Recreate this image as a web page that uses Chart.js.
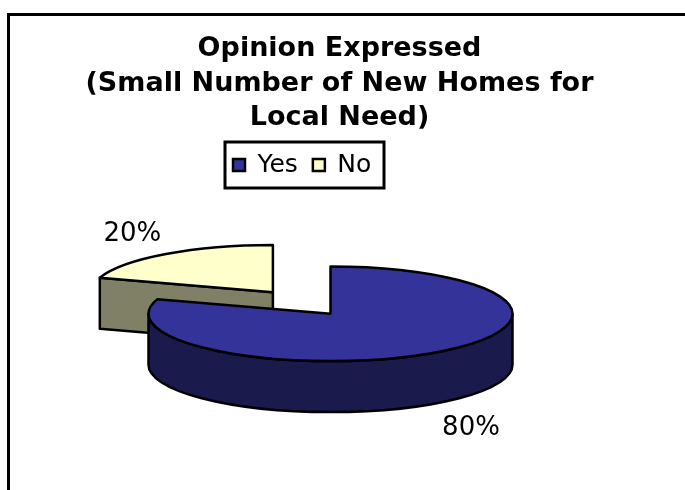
<!DOCTYPE html>
<html>
<head>
<meta charset="utf-8">
<title>Opinion Expressed</title>
<script src="https://cdn.jsdelivr.net/npm/chart.js@4"></script>
<style>
	html, body { margin: 0; padding: 0; background: #fff; overflow: hidden; }
	#wrap { position: relative; width: 685px; height: 490px; overflow: hidden; }
	#frame { position: absolute; left: 7px; top: 13px; width: 800px; height: 600px; border-left: 3px solid #000; border-top: 3px solid #000; }
	#pie-chart { position: absolute; left: 0; top: 0; }
</style>
</head>
<body>
<div id="wrap">
	<div id="frame"></div>
	<canvas id="pie-chart" width="685" height="490"></canvas>
</div>
<script>
const categories = ["Yes", "No"];
const seriesValues = [80, 20];
const sliceColors = ["#333399", "#FFFFCC"];
const sideColors = ["#1A1A4D", "#808066"];
const explodeBy = [0, 98];
const titleLines = ["Opinion Expressed", "(Small Number of New Homes for", "Local Need)"];

// pie plane is tilted, so y distances get squashed
const TILT = 0.26;
const EXPLODE_TILT = 0.27;
const DEPTH = 51;
const LABEL_RADIUS = 239;
const LABEL_TILT = 0.315;
const FONT = "'DejaVu Sans', sans-serif";

function sliceGeometry(el) {
	const p = el.getProps(["x", "y", "startAngle", "endAngle", "outerRadius"], true);
	const mid = (p.startAngle + p.endAngle) / 2;
	const off = el.options.offset || 0;
	return {
		x: p.x + Math.cos(mid) * off,
		y: p.y + Math.sin(mid) * off * EXPLODE_TILT,
		start: p.startAngle,
		end: p.endAngle,
		mid: mid,
		rx: p.outerRadius,
		ry: p.outerRadius * TILT
	};
}

function drawCutFace(ctx, g, angle) {
	const ex = g.x + Math.cos(angle) * g.rx,
		ey = g.y + Math.sin(angle) * g.ry;
	ctx.beginPath();
	ctx.moveTo(g.x, g.y);
	ctx.lineTo(ex, ey);
	ctx.lineTo(ex, ey + DEPTH);
	ctx.lineTo(g.x, g.y + DEPTH);
	ctx.closePath();
	ctx.fill();
	ctx.stroke();
}

const pie3d = {
	id: "pie3d",
	afterLayout(chart) {
		// legend and title do not sit on the pie's centre line
		const legend = chart.legend, title = chart.titleBlock;
		legend.left = 218;
		legend.right = 400;
		legend.top = 137.5;
		title.left = 0;
		title.right = 679;
		title.width = 679;
	},
	beforeDatasetsDraw(chart) {
		const ctx = chart.ctx,
			arcs = chart.getDatasetMeta(0).data;
		ctx.save();
		ctx.strokeStyle = "#000";
		ctx.lineWidth = 2.5;
		ctx.lineJoin = "round";
		// exploded slice goes first, the big one covers it
		for (let i = arcs.length - 1; i >= 0; i--) {
			const g = sliceGeometry(arcs[i]);
			ctx.fillStyle = sideColors[i];
			if (Math.cos(g.start) < -1e-6) drawCutFace(ctx, g, g.start);
			if (Math.cos(g.end) > 1e-6) drawCutFace(ctx, g, g.end);

			// outer wall, only the part facing the front
			const a = Math.max(g.start, 0), b = Math.min(g.end, Math.PI);
			if (b > a) {
				ctx.beginPath();
				ctx.ellipse(g.x, g.y, g.rx, g.ry, 0, a, b);
				ctx.ellipse(g.x, g.y + DEPTH, g.rx, g.ry, 0, b, a, true);
				ctx.closePath();
				ctx.fill();
				ctx.stroke();
			}

			ctx.fillStyle = sliceColors[i];
			ctx.beginPath();
			ctx.moveTo(g.x, g.y);
			ctx.ellipse(g.x, g.y, g.rx, g.ry, 0, g.start, g.end);
			ctx.closePath();
			ctx.fill();
			ctx.stroke();
		}
		ctx.restore();
		return false;
	},
	afterDraw(chart) {
		const ctx = chart.ctx,
			arcs = chart.getDatasetMeta(0).data,
			total = seriesValues.reduce(function (s, v) { return s + v; }, 0);
		ctx.save();
		ctx.strokeStyle = "#000";
		ctx.lineWidth = 3;
		ctx.strokeRect(225, 142, 159, 46);

		ctx.fillStyle = "#000";
		ctx.font = "26px " + FONT;
		ctx.textAlign = "center";
		ctx.textBaseline = "middle";
		arcs.forEach(function (el, i) {
			const g = sliceGeometry(el),
				drop = Math.sin(g.mid) > 0 ? DEPTH : 0,
				text = Math.round(seriesValues[i] / total * 100) + "%";
			ctx.fillText(text, g.x + Math.cos(g.mid) * LABEL_RADIUS,
				g.y + Math.sin(g.mid) * LABEL_RADIUS * LABEL_TILT + drop + 3);
		});
		ctx.restore();
	}
};

new Chart(document.querySelector("#pie-chart").getContext("2d"), {
	type: "pie",
	plugins: [pie3d],
	data: {
		labels: categories,
		datasets: [
			{
				data: seriesValues,
				backgroundColor: sliceColors,
				borderColor: "#000",
				borderWidth: 2.5,
				offset: explodeBy,
				radius: 182
			}
		]
	},
	options: {
		responsive: false,
		animation: false,
		layout: {
			padding: { left: 0, right: 24, top: 0, bottom: 51 }
		},
		plugins: {
			title: {
				display: true,
				text: titleLines,
				color: "#000",
				font: { family: FONT, size: 27, weight: "bold", lineHeight: 1.278 },
				padding: { top: 32, bottom: 3 }
			},
			legend: {
				display: true,
				position: "top",
				align: "start",
				labels: {
					boxWidth: 12,
					boxHeight: 12,
					padding: 15,
					color: "#000",
					font: { family: FONT, size: 25 }
				}
			},
			tooltip: { enabled: false }
		}
	}
});
</script>
</body>
</html>
